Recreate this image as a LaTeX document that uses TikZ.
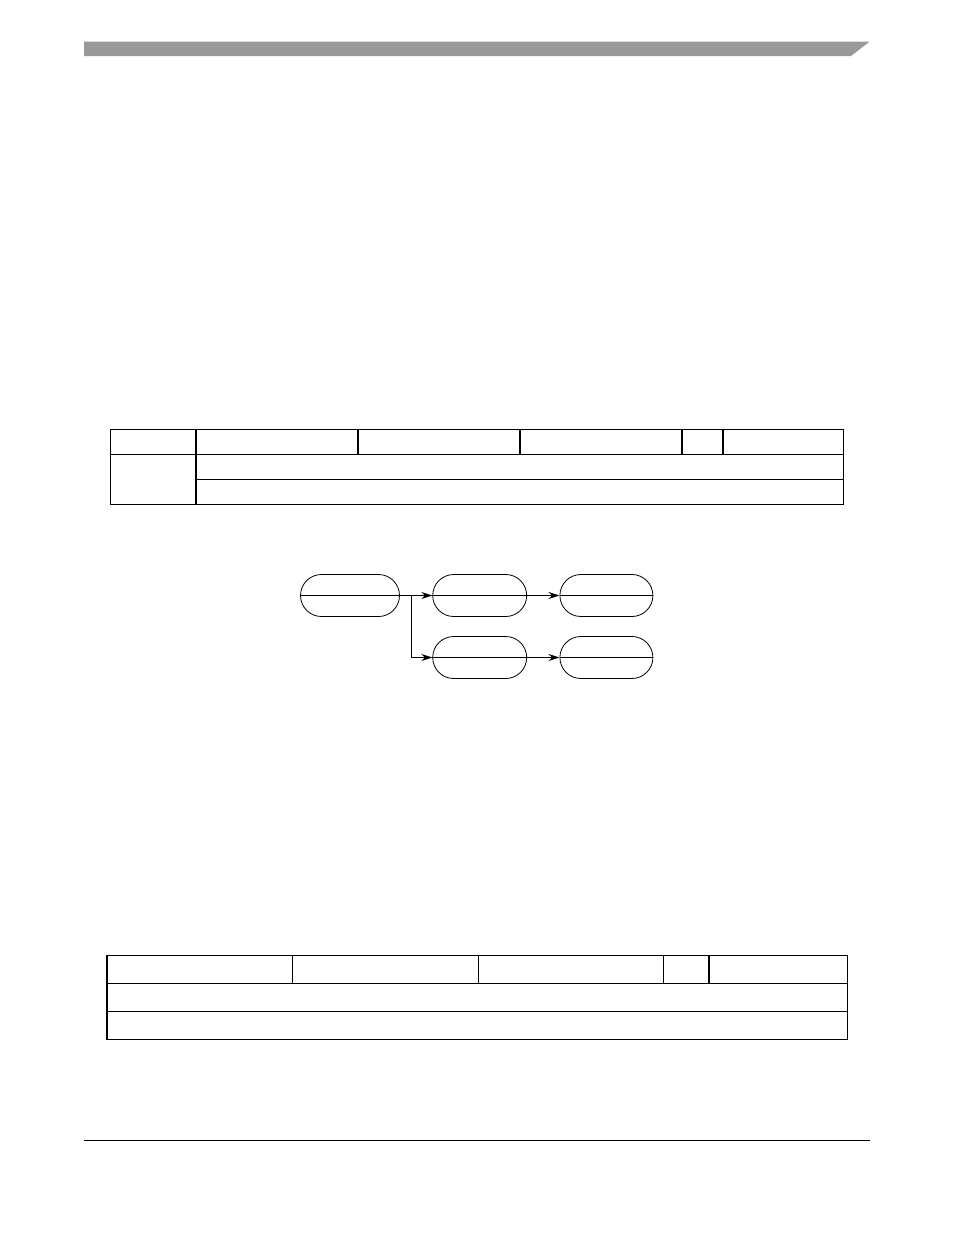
\documentclass[tikz,border=0pt]{standalone}
\usepackage{tikz}
\usetikzlibrary{arrows.meta}
\definecolor{barGray}{HTML}{999999}

\begin{document}
\begin{tikzpicture}[x=1pt,y=-1pt]
		\tikzstyle{every node}+=[inner sep=0pt]
		\tikzstyle{stage}=[draw, black, line width=0.8pt, rounded corners=21pt, minimum height=42pt]
		\tikzstyle{grid}=[black, line width=1.2pt]
		\tikzstyle{flow}=[black, line width=1pt, -{Stealth[length=11pt,width=7pt]}]
		\useasboundingbox (0,0) rectangle (954,1235);
		% page header and footer
		\fill [barGray] (84,41.7) -- (869.5,41.7) -- (851,56) -- (84,56) -- cycle;
		\draw [black, line width=1pt] (84,1140.3) -- (870,1140.3);
		% first table
		\draw [grid] (110.5,429.5) rectangle (843.5,504.5);
		\draw [grid] (110.5,454.5) -- (843.5,454.5);
		\draw [grid] (196,479.7) -- (843.5,479.7);
		\draw [grid] (196,429.5) -- (196,504.5);
		\foreach \x in {358,520,682,723}
			\draw [grid] (\x,429.5) -- (\x,454.5);
		% flow of stages
		\node [stage, minimum width=99pt] (s1) at (350,595.5) {};
		\node [stage, minimum width=94pt] (s2) at (479.7,595.5) {};
		\node [stage, minimum width=93pt] (s3) at (606.4,595.5) {};
		\node [stage, minimum width=94pt] (s4) at (479.7,657.5) {};
		\node [stage, minimum width=93pt] (s5) at (606.4,657.5) {};
		\foreach \n in {s1,s2,s3,s4,s5}
			\draw [black, line width=1pt] (\n.west) -- (\n.east);
		\coordinate (fork) at (411.7,595.5);
		\draw [black, line width=1pt] (s1.east) -- (fork);
		\draw [flow] (fork) -- (s2.west);
		\draw [flow] (fork) |- (s4.west);
		\draw [flow] (s2.east) -- (s3.west);
		\draw [flow] (s4.east) -- (s5.west);
		% second table
		\draw [grid] (107,955.3) rectangle (847.3,1039.3);
		\draw [grid] (107,983.3) -- (847.3,983.3);
		\draw [grid] (107,1011.3) -- (847.3,1011.3);
		\foreach \x in {292.7,478.8,663.5,709}
			\draw [grid] (\x,955.3) -- (\x,983.3);
	\end{tikzpicture}
\end{document}
